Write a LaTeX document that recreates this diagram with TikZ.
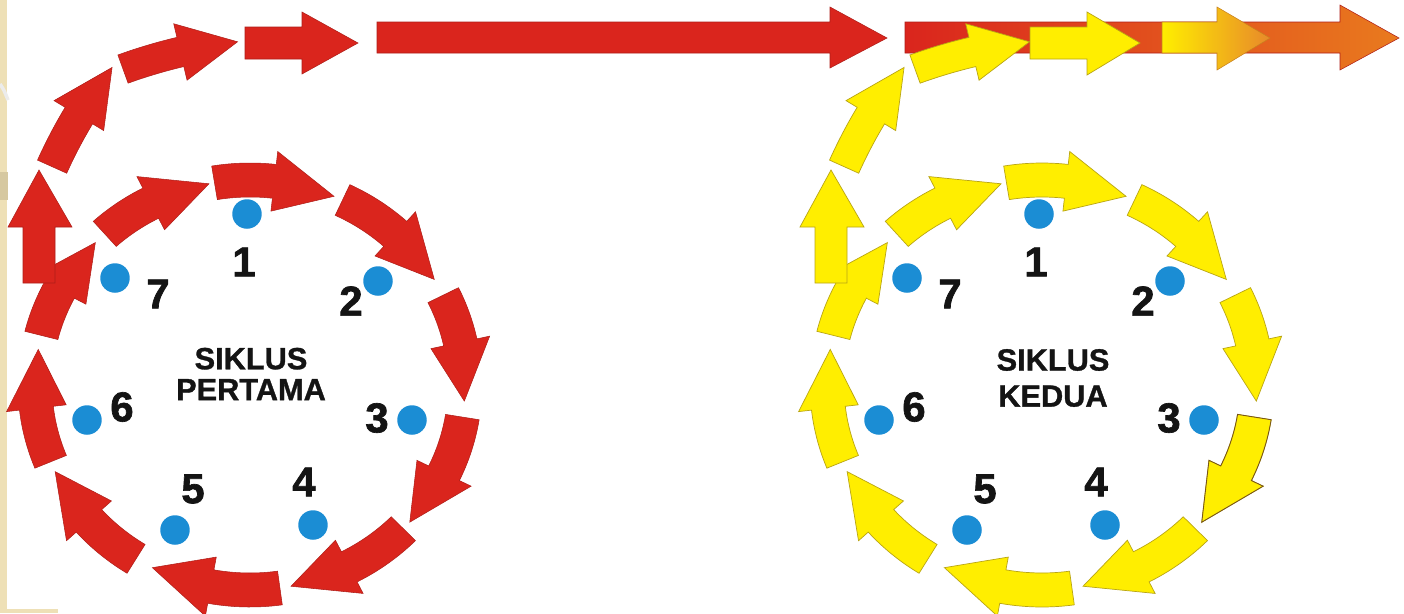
\documentclass[tikz,border=0pt]{standalone}
\usepackage{fontspec}
\setmainfont{Liberation Sans}
\newfontfamily\heavyfont[FakeBold=1.6]{Liberation Sans}
\newfontfamily\titlefont[FakeBold=1.0]{Liberation Sans}
\definecolor{arrred}{RGB}{218,37,29}
\definecolor{arrredline}{RGB}{175,30,25}
\definecolor{arryel}{RGB}{255,238,0}
\definecolor{arryelline}{RGB}{185,165,20}
\definecolor{arrbrown}{RGB}{120,85,25}
\definecolor{dotblue}{RGB}{27,141,212}
\definecolor{barorange}{RGB}{233,122,30}
\definecolor{gradmid}{RGB}{245,172,0}
\definecolor{gradend}{RGB}{232,137,42}
\definecolor{gradline}{RGB}{200,130,30}
\definecolor{beigestrip}{RGB}{238,224,182}
\definecolor{beigeband}{RGB}{214,200,160}

% curved arrow: cx cy rx ry start-angle tip-angle head-length half-width head-half-width
\newcommand{\arcarrow}[9]{%
  \pgfmathsetmacro{\hbang}{#6-#7}%
  \path[ringarrow] plot[domain=#5:\hbang,samples=14] ({#1+(#3+#8)*cos(\x)},{#2+(#4+#8)*sin(\x)})
   -- ({#1+(#3+#9)*cos(\hbang)},{#2+(#4+#9)*sin(\hbang)})
   -- ({#1+#3*cos(#6)},{#2+#4*sin(#6)})
   -- ({#1+(#3-#9)*cos(\hbang)},{#2+(#4-#9)*sin(\hbang)})
   -- plot[domain=\hbang:#5,samples=14] ({#1+(#3-#8)*cos(\x)},{#2+(#4-#8)*sin(\x)})
   -- cycle;}

\newcommand{\ringgroup}{%
  \foreach \sa/\ea in {-99.5/-67,-64.5/-31,-26/4.5,9/42,44.5/79,82/117,122/155,158/190,194/224,227.5/259}{%
    \arcarrow{250}{385}{215}{205}{\sa}{\ea}{16.5}{17}{30}}%
  \path[ringarrow] (23,283) -- (23,227) -- (8,227) -- (39,170) -- (72,227) -- (55,227) -- (55,283) -- cycle;
  \arcarrow{489}{363}{479}{479}{204.2}{218.1}{7}{16}{29}%
  \arcarrow{300}{558}{520}{520}{250.1}{263.1}{6.4}{15}{29}%
}

\newcommand{\markers}[1]{%
  \node[dot] (#1d1) at (247,214) {};
  \node[dot] (#1d2) at (378,281) {};
  \node[dot] (#1d3) at (412,420) {};
  \node[dot] (#1d4) at (313,525) {};
  \node[dot] (#1d5) at (175,530) {};
  \node[dot] (#1d6) at (87,420) {};
  \node[dot] (#1d7) at (115,278) {};
  \node[digit] (#1n1) at (244,262) {1};
  \node[digit] (#1n2) at (351,301) {2};
  \node[digit] (#1n3) at (377,418) {3};
  \node[digit] (#1n4) at (304,482) {4};
  \node[digit] (#1n5) at (193,489) {5};
  \node[digit] (#1n6) at (122,407) {6};
  \node[digit] (#1n7) at (158,294) {7};
}

\begin{document}
\begin{tikzpicture}[x=0.02cm,y=-0.02cm,
  dot/.style={circle,fill=dotblue,minimum size=0.59cm,inner sep=0pt},
  digit/.style={font=\heavyfont\fontsize{23.8}{24}\selectfont\bfseries,inner sep=0pt,text=black!92},
  title/.style={font=\titlefont\fontsize{17.5}{17.6}\selectfont\bfseries,align=center,inner sep=0pt,text=black!92},
  titleb/.style={font=\titlefont\fontsize{17.5}{20.5}\selectfont\bfseries,align=center,inner sep=0pt,text=black!92},
  redarrow/.style={fill=arrred,draw=arrredline,line width=0.3pt},
  yelarrow/.style={fill=arryel,draw=arryelline,line width=0.4pt}]
\useasboundingbox (0,0) rectangle (1404,613);
\fill[white] (0,0) rectangle (1404,613);
% slide border
\fill[beigestrip] (0,0) rectangle (7,613);
\fill[beigeband] (0,172) rectangle (8,200);
\draw[white!85!gray,line width=2pt] (0,84) .. controls (4,90) .. (8,100);
\fill[beigestrip] (0,609) rectangle (58,613);

% ---- first cycle (red) ----
\begin{scope}[ringarrow/.style={redarrow}]
  \ringgroup
  \path[ringarrow] (245,27) -- (302,27) -- (302,12) -- (358,43) -- (302,74) -- (302,59) -- (245,59) -- cycle;
  \path[ringarrow] (377,22) -- (830,22) -- (830,7) -- (887,38) -- (830,68) -- (830,53) -- (377,53) -- cycle;
\end{scope}
\markers{a}
\node[title] (t1) at (251,374) {SIKLUS\\PERTAMA};

% ---- long red-orange bar ----
\shade[left color=arrred,right color=barorange,draw=arrredline,line width=0.3pt]
  (905,22) -- (1340,22) -- (1340,5) -- (1399,38) -- (1340,70) -- (1340,53) -- (905,53) -- cycle;

% ---- second cycle (yellow) ----
\begin{scope}[shift={(792,0)},ringarrow/.style={yelarrow}]
  \ringgroup
\end{scope}
\begin{scope}[shift={(792,0)},ringarrow/.style={fill=arryel,draw=arrbrown,line width=0.5pt}]
  \arcarrow{250}{385}{215}{205}{9}{42}{16.5}{17}{30}
\end{scope}
\path[yelarrow] (1030,27) -- (1087,27) -- (1087,12) -- (1140,43) -- (1087,75) -- (1087,59) -- (1030,59) -- cycle;
\shade[left color=arryel,middle color=gradmid,right color=gradend,draw=gradline,line width=0.3pt]
  (1162,22) -- (1217,22) -- (1217,7) -- (1270,38) -- (1217,70) -- (1217,53) -- (1162,53) -- cycle;
\begin{scope}[shift={(792,0)}]
  \markers{b}
\end{scope}
\node[titleb] (t2) at (1053,378) {SIKLUS\\KEDUA};
\end{tikzpicture}
\end{document}
